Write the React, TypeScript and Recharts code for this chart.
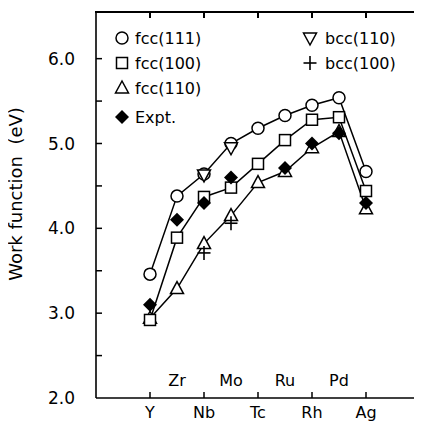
import React from "react";
import {
  LineChart,
  Line,
  XAxis,
  YAxis,
  Customized,
} from "recharts";

// Elements along the 4d row (Y ... Ag)
const elements = ["Y", "Zr", "Nb", "Mo", "Tc", "Ru", "Rh", "Pd", "Ag"];

// Work function values (eV)
const fcc111 = [3.46, 4.38, 4.64, 5.0, 5.18, 5.33, 5.45, 5.54, 4.67];
const fcc100 = [2.92, 3.89, 4.37, 4.48, 4.76, 5.04, 5.28, 5.31, 4.44];
const fcc110 = [2.94, 3.29, 3.82, 4.15, 4.54, 4.67, 4.95, 5.14, 4.23];
const expt = [3.1, 4.1, 4.3, 4.6, null, 4.71, 5.0, 5.12, 4.3];
const bcc110 = [null, null, 4.63, 4.95, null, null, null, null, null];
const bcc100 = [null, null, 3.71, 4.06, null, null, null, null, null];

const yTicks = [2, 2.5, 3, 3.5, 4, 4.5, 5, 5.5, 6];
const xMajor = [0, 2, 4, 6, 8];
const yMin = 2;
const yMax = 6.55;
const xMin = -2;
const xMax = 10;

const data = elements.map((name, i) => ({
  x: i,
  name,
  fcc111: fcc111[i],
  fcc100: fcc100[i],
  fcc110: fcc110[i],
  expt: expt[i],
  bcc110: bcc110[i],
  bcc100: bcc100[i],
}));

const FONT = "DejaVu Sans, sans-serif";
const INK = "#000";

// chart layout (px)
const W = 422;
const H = 423;
const M = { top: 12, right: 2, bottom: 0, left: 0 };
const Y_AXIS_W = 96;
const X_AXIS_H = 25;
const PL = M.left + Y_AXIS_W;
const PR = W - M.right;
const PT = M.top;
const PB = H - M.bottom - X_AXIS_H;

type Shape = "circle" | "square" | "tri" | "diamond" | "tridown" | "plus";

function Marker({ shape, cx, cy }: { shape: Shape; cx: number; cy: number }) {
  const sw = 1.5;
  switch (shape) {
    case "circle":
      return <circle cx={cx} cy={cy} r={6} fill="#fff" stroke={INK} strokeWidth={sw} />;
    case "square":
      return <rect x={cx - 5.5} y={cy - 5.5} width={11} height={11} fill="#fff" stroke={INK} strokeWidth={sw} />;
    case "tri":
      return (
        <polygon
          points={`${cx},${cy - 7} ${cx - 6.5},${cy + 5} ${cx + 6.5},${cy + 5}`}
          fill="#fff"
          stroke={INK}
          strokeWidth={sw}
        />
      );
    case "tridown":
      return (
        <polygon
          points={`${cx},${cy + 7} ${cx - 6.5},${cy - 5} ${cx + 6.5},${cy - 5}`}
          fill="#fff"
          stroke={INK}
          strokeWidth={sw}
        />
      );
    case "diamond":
      return (
        <polygon
          points={`${cx},${cy - 7} ${cx + 7},${cy} ${cx},${cy + 7} ${cx - 7},${cy}`}
          fill={INK}
        />
      );
    case "plus":
      return (
        <g stroke={INK} strokeWidth={1.6}>
          <line x1={cx - 6.5} y1={cy} x2={cx + 6.5} y2={cy} />
          <line x1={cx} y1={cy - 7} x2={cx} y2={cy + 7} />
        </g>
      );
  }
}

const dotFor = (shape: Shape) => (props: any) => {
  const { cx, cy, value, index } = props;
  if (cx == null || cy == null || value == null) return <g key={`e${index}`} />;
  return <Marker key={`${shape}${index}`} shape={shape} cx={cx} cy={cy} />;
};

// bottom axis: even positions below the axis with a tick, odd ones above inside the frame
const BottomTick = (props: any) => {
  const { x, y, payload } = props;
  const i = payload.value as number;
  const label = elements[i];
  if (i % 2 === 0) {
    return (
      <g>
        <line x1={x} y1={y} x2={x} y2={y - 6} stroke={INK} strokeWidth={1.5} />
        <text x={x} y={y + 20} textAnchor="middle" fontFamily={FONT} fontSize={16} fill={INK}>
          {label}
        </text>
      </g>
    );
  }
  return (
    <text x={x} y={y - 12} textAnchor="middle" fontFamily={FONT} fontSize={16} fill={INK}>
      {label}
    </text>
  );
};

const LeftTick = (props: any) => {
  const { x, y, payload } = props;
  const v = payload.value as number;
  return (
    <g>
      {v > 2 && <line x1={x} y1={y} x2={x + 6} y2={y} stroke={INK} strokeWidth={1.5} />}
      {Number.isInteger(v) && (
        <text x={x - 21} y={y} dy="0.36em" textAnchor="end" fontFamily={FONT} fontSize={17} fill={INK}>
          {v.toFixed(1)}
        </text>
      )}
    </g>
  );
};

const YTitle = () => (
  <text
    transform="translate(22,194) rotate(-90)"
    textAnchor="middle"
    fontFamily={FONT}
    fontSize={18}
    fill={INK}
    style={{ whiteSpace: "pre" }}
  >
    {"Work function  (eV)"}
  </text>
);

const legendLeft: [Shape, string][] = [
  ["circle", "fcc(111)"],
  ["square", "fcc(100)"],
  ["tri", "fcc(110)"],
  ["diamond", "Expt."],
];
const legendRight: [Shape, string][] = [
  ["tridown", "bcc(110)"],
  ["plus", "bcc(100)"],
];

const LegendBox = () => {
  const leftRows = [38, 63, 88, 117];
  const rightRows = [38, 63];
  return (
    <g>
      {legendLeft.map(([s, t], i) => (
        <g key={t}>
          <Marker shape={s} cx={122} cy={leftRows[i]} />
          <text x={135} y={leftRows[i]} dy="0.36em" fontFamily={FONT} fontSize={16} fill={INK}>
            {t}
          </text>
        </g>
      ))}
      {legendRight.map(([s, t], i) => (
        <g key={t}>
          <Marker shape={s} cx={310} cy={rightRows[i]} />
          <text x={325} y={rightRows[i]} dy="0.36em" fontFamily={FONT} fontSize={16} fill={INK}>
            {t}
          </text>
        </g>
      ))}
    </g>
  );
};

// top and right sides of the box with their inward ticks, laid over the svg
const FrameOverlay = () => {
  const px = (v: number) => PL + ((v - xMin) / (xMax - xMin)) * (PR - PL);
  const py = (v: number) => PB - ((v - yMin) / (yMax - yMin)) * (PB - PT);
  const abs = { position: "absolute" as const, background: INK };
  return (
    <div style={{ position: "absolute", left: 0, top: 0, width: W, height: H, pointerEvents: "none" }}>
      <div style={{ ...abs, left: PL - 1, top: PT - 1, width: PR - PL + 2, height: 2 }} />
      <div style={{ ...abs, left: PR - 1, top: PT - 1, width: 2, height: PB - PT + 2 }} />
      {xMajor.map((v) => (
        <div key={`t${v}`} style={{ ...abs, left: px(v) - 0.75, top: PT, width: 1.5, height: 6 }} />
      ))}
      {yTicks
        .filter((v) => v > yMin)
        .map((v) => (
          <div key={`r${v}`} style={{ ...abs, left: PR - 6, top: py(v) - 0.75, width: 6, height: 1.5 }} />
        ))}
    </div>
  );
};

export default function App() {
  return (
    <div style={{ margin: "-8px 0 0 -8px", width: W, height: H, position: "relative" }}>
      <LineChart width={W} height={H} data={data} margin={M} style={{ background: "#fff" }}>
        <XAxis
          xAxisId="b"
          dataKey="x"
          type="number"
          domain={[xMin, xMax]}
          ticks={[0, 1, 2, 3, 4, 5, 6, 7, 8]}
          allowDataOverflow
          height={X_AXIS_H}
          tickLine={false}
          tickSize={0}
          tickMargin={0}
          tick={<BottomTick />}
          axisLine={{ stroke: INK, strokeWidth: 1.6 }}
          interval={0}
        />
        <YAxis
          yAxisId="l"
          type="number"
          domain={[yMin, yMax]}
          ticks={yTicks}
          allowDataOverflow
          width={Y_AXIS_W}
          tickLine={false}
          tickSize={0}
          tickMargin={0}
          tick={<LeftTick />}
          axisLine={{ stroke: INK, strokeWidth: 1.6 }}
          interval={0}
          label={<YTitle />}
        />
        <Line xAxisId="b" yAxisId="l" dataKey="fcc110" stroke={INK} strokeWidth={1.5} dot={dotFor("tri")} isAnimationActive={false} />
        <Line xAxisId="b" yAxisId="l" dataKey="fcc100" stroke={INK} strokeWidth={1.5} dot={dotFor("square")} isAnimationActive={false} />
        <Line xAxisId="b" yAxisId="l" dataKey="fcc111" stroke={INK} strokeWidth={1.5} dot={dotFor("circle")} isAnimationActive={false} />
        <Line xAxisId="b" yAxisId="l" dataKey="expt" stroke="none" dot={dotFor("diamond")} isAnimationActive={false} />
        <Line xAxisId="b" yAxisId="l" dataKey="bcc110" stroke="none" dot={dotFor("tridown")} isAnimationActive={false} />
        <Line xAxisId="b" yAxisId="l" dataKey="bcc100" stroke="none" dot={dotFor("plus")} isAnimationActive={false} />
        <Customized component={<LegendBox />} />
      </LineChart>
      <FrameOverlay />
    </div>
  );
}
